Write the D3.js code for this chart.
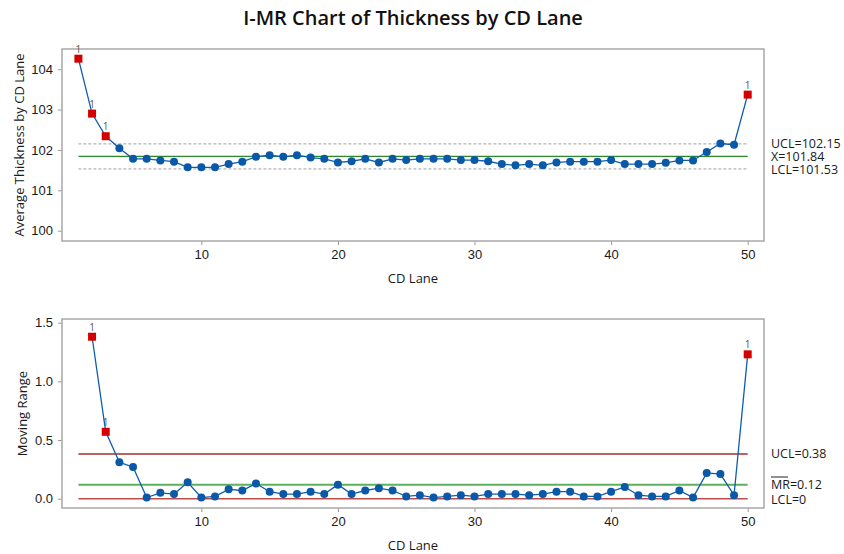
<!DOCTYPE html>
<meta charset="utf-8">
<style>
body {margin: 0; background: #fff;}
svg {font-family: "Open Sans", "Noto Sans", sans-serif;}
.tick text {font-size: 13px; fill: #1a1a1a;}
.tick line {stroke: #999;}
.frame {fill: none; stroke: #a8a8a8; stroke-width: 1.5;}
</style>
<html>
<body>
<script src="https://d3js.org/d3.v7.min.js"></script>
<script>
// CD lane numbers
var lanes = d3.range(1, 51);

// average thickness per lane (I chart)
var thickness = [104.26, 102.90, 102.34, 102.04, 101.78, 101.78, 101.74, 101.71, 101.57, 101.57,
                 101.57, 101.65, 101.71, 101.83, 101.87, 101.83, 101.87, 101.81, 101.78, 101.69,
                 101.72, 101.78, 101.69, 101.78, 101.75, 101.78, 101.78, 101.78, 101.75, 101.75,
                 101.72, 101.65, 101.62, 101.65, 101.62, 101.69, 101.71, 101.71, 101.71, 101.75,
                 101.65, 101.65, 101.65, 101.68, 101.74, 101.74, 101.95, 102.16, 102.13, 103.37];

// moving range, starts at lane 2
var movingRange = [null, 1.38, 0.57, 0.31, 0.27, 0.01, 0.05, 0.04, 0.14, 0.01,
                   0.02, 0.08, 0.07, 0.13, 0.06, 0.04, 0.04, 0.06, 0.04, 0.12,
                   0.04, 0.07, 0.09, 0.07, 0.02, 0.03, 0.01, 0.02, 0.03, 0.02,
                   0.04, 0.04, 0.04, 0.03, 0.04, 0.06, 0.06, 0.02, 0.02, 0.06,
                   0.10, 0.03, 0.02, 0.02, 0.07, 0.01, 0.22, 0.21, 0.03, 1.23];

// out of control points (test 1)
var iFlags = [1, 2, 3, 50];
var mrFlags = [2, 3, 50];

var iLimits = {ucl: 102.15, center: 101.84, lcl: 101.53};
var mrLimits = {ucl: 0.38, center: 0.12, lcl: 0};

var xTicks = [10, 20, 30, 40, 50];
var iTicks = [100, 101, 102, 103, 104];
var mrTicks = [0, 0.5, 1.0, 1.5];

var width = 844,
    height = 554;

var svg = d3.select("body").append("svg")
    .attr("width", width)
    .attr("height", height);

var left = 62, right = 764;

var x = d3.scaleLinear()
    .domain([1, 50])
    .range([78.4, 747.7]);

svg.append("text")
    .attr("x", (left + right) / 2)
    .attr("y", 25)
    .attr("text-anchor", "middle")
    .style("font-size", "20px")
    .style("font-weight", "600")
    .style("fill", "#111")
    .text("I-MR Chart of Thickness by CD Lane");

function drawPanel(opt) {
    var g = svg.append("g");
    var y = d3.scaleLinear().domain(opt.domain).range([opt.bottom, opt.top]);

    g.append("g")
        .attr("transform", "translate(" + left + ",0)")
        .call(d3.axisLeft(y).tickValues(opt.ticks).tickSize(4).tickPadding(5).tickFormat(opt.fmt))
        .call(function(a) { a.select(".domain").remove(); });

    g.append("g")
        .attr("transform", "translate(0," + opt.bottom + ")")
        .call(d3.axisBottom(x).tickValues(xTicks).tickSize(4).tickPadding(5))
        .call(function(a) { a.select(".domain").remove(); });

    g.append("rect")
        .attr("class", "frame")
        .attr("x", left)
        .attr("y", opt.top)
        .attr("width", right - left)
        .attr("height", opt.bottom - opt.top);

    // control limits
    opt.lines.forEach(function(l) {
        g.append("line")
            .attr("x1", x(1)).attr("x2", x(50))
            .attr("y1", y(l.v)).attr("y2", y(l.v))
            .style("stroke", l.color)
            .style("stroke-width", l.w)
            .style("stroke-dasharray", l.dash || null);
        g.append("text")
            .attr("x", 771)
            .attr("y", y(l.v) + (l.dy || 0))
            .attr("dy", "0.35em")
            .style("font-size", "12.5px")
            .style("fill", "#1a1a1a")
            .text(l.label);
    });

    var pts = lanes.map(function(d, i) { return {lane: d, v: opt.values[i]}; })
        .filter(function(d) { return d.v != null; });

    g.append("path")
        .datum(pts)
        .attr("fill", "none")
        .attr("stroke", "#0f5daa")
        .attr("stroke-width", 1.3)
        .attr("d", d3.line().x(function(d) { return x(d.lane); }).y(function(d) { return y(d.v); }));

    g.selectAll("circle")
        .data(pts.filter(function(d) { return opt.flags.indexOf(d.lane) < 0; }))
        .enter().append("circle")
        .attr("cx", function(d) { return x(d.lane); })
        .attr("cy", function(d) { return y(d.v); })
        .attr("r", 4)
        .attr("fill", "#0a58a8");

    var bad = pts.filter(function(d) { return opt.flags.indexOf(d.lane) >= 0; });
    g.selectAll("rect.flag")
        .data(bad)
        .enter().append("rect")
        .attr("class", "flag")
        .attr("x", function(d) { return x(d.lane) - 4; })
        .attr("y", function(d) { return y(d.v) - 4; })
        .attr("width", 8)
        .attr("height", 8)
        .attr("fill", "#d40000");
    g.selectAll("text.flag")
        .data(bad)
        .enter().append("text")
        .attr("class", "flag")
        .attr("x", function(d) { return x(d.lane); })
        .attr("y", function(d) { return y(d.v) - 6; })
        .attr("text-anchor", "middle")
        .style("font-size", "10px")
        .style("fill", "#555")
        .text("1");

    g.append("text")
        .attr("x", (left + right) / 2)
        .attr("y", opt.bottom + 37)
        .attr("dy", "0.35em")
        .attr("text-anchor", "middle")
        .style("font-size", "13px")
        .style("fill", "#1a1a1a")
        .text("CD Lane");

    g.append("text")
        .attr("transform", "translate(" + opt.ylabX + "," + (opt.top + opt.bottom) / 2 + ") rotate(-90)")
        .attr("text-anchor", "middle")
        .attr("dy", "0.35em")
        .style("font-size", "13px")
        .style("fill", "#1a1a1a")
        .text(opt.ylabel);
}

drawPanel({
    top: 49, bottom: 241,
    domain: [99.745, 104.5],
    ticks: iTicks,
    fmt: d3.format("d"),
    values: thickness,
    flags: iFlags,
    ylabel: "Average Thickness by CD Lane",
    ylabX: 19,
    lines: [
        {v: iLimits.ucl, color: "#a0a0a0", w: 1, dash: "3,2", label: "UCL=" + iLimits.ucl, dy: 0},
        {v: iLimits.center, color: "#2a8a2a", w: 1.2, label: "X=" + iLimits.center},
        {v: iLimits.lcl, color: "#a0a0a0", w: 1, dash: "3,2", label: "LCL=" + iLimits.lcl, dy: 1}
    ]
});

drawPanel({
    top: 319, bottom: 508,
    domain: [-0.079, 1.531],
    ticks: mrTicks,
    fmt: d3.format(".1f"),
    values: movingRange,
    flags: mrFlags,
    ylabel: "Moving Range",
    ylabX: 22,
    lines: [
        {v: mrLimits.ucl, color: "#bb6262", w: 2, label: "UCL=" + mrLimits.ucl},
        {v: mrLimits.center, color: "#5db05d", w: 2, label: "MR=" + mrLimits.center},
        {v: mrLimits.lcl, color: "#bb4c4c", w: 1.5, label: "LCL=" + mrLimits.lcl, dy: 1}
    ]
});

// bar over MR
svg.append("line")
    .attr("x1", 771).attr("x2", 788)
    .attr("y1", 477).attr("y2", 477)
    .style("stroke", "#222")
    .style("stroke-width", 1);
</script>
</body>
</html>
